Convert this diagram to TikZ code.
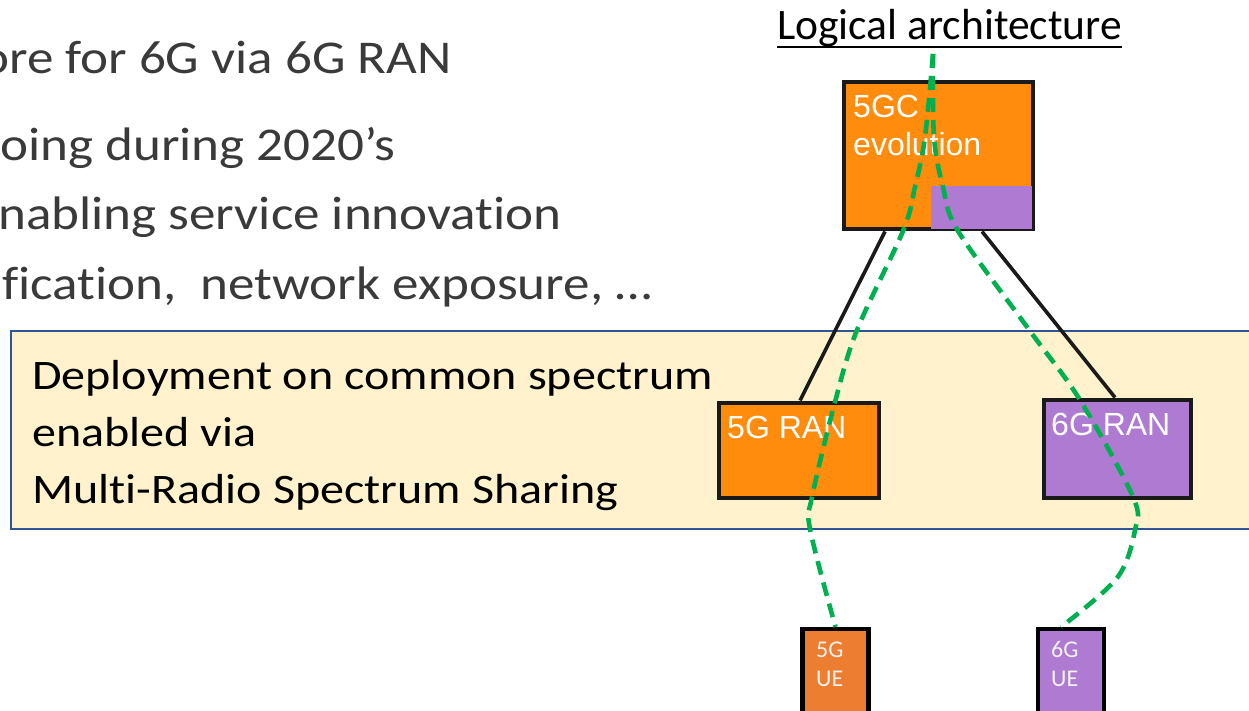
\documentclass[tikz,border=0pt]{standalone}
\usepackage{fontspec}
\setmainfont[Ligatures=NoCommon]{Carlito}
\newfontfamily\bodyfont[FakeStretch=1.13, Ligatures=NoCommon]{Carlito}
\newfontfamily\bandfont[FakeStretch=1.145, Ligatures=NoCommon]{Carlito}
\newfontfamily\boxfont{Liberation Sans}
\newfontfamily\titlefont[Ligatures=NoCommon]{Carlito}
\usetikzlibrary{calc}

\definecolor{bodygray}{HTML}{3A3A3A}
\definecolor{bandfill}{HTML}{FFF2CC}
\definecolor{bandline}{HTML}{2F5597}
\definecolor{coreorange}{HTML}{FF8C0C}
\definecolor{ueorange}{HTML}{ED7D31}
\definecolor{nrpurple}{HTML}{AE7AD2}
\definecolor{pathgreen}{HTML}{00B050}
\definecolor{edgeblack}{HTML}{1A1A1A}

\tikzset{
  x=1pt, y=-1pt,
  box/.style={draw=edgeblack, line width=4pt, inner sep=0pt},
  uebox/.style={draw=black, line width=4.2pt, inner sep=0pt},
  bodytext/.style={inner sep=0pt, anchor=base west, text=bodygray, font=\bodyfont\fontsize{47}{54}\selectfont},
  bandtext/.style={inner sep=0pt, anchor=base west, text=black, font=\bandfont\fontsize{42}{50}\selectfont},
  boxtext/.style={inner sep=0pt, anchor=base west, text=white, font=\boxfont\fontsize{32}{38}\selectfont},
  uetext/.style={inner sep=0pt, anchor=base west, text=white!95!black, font=\fontsize{24}{29}\selectfont},
  link/.style={draw=edgeblack, line width=3.6pt},
  gpath/.style={draw=pathgreen, line width=4.6pt, dash pattern=on 14pt off 8pt},
}

\begin{document}
\begin{tikzpicture}
\useasboundingbox (0,0) rectangle (1249,711);
\clip (0,0) rectangle (1249,711);
\fill[white] (0,0) rectangle (1249,711);

% bullet text (cut at the left edge)
\node[bodytext] (t1) at (-19,74) {ore for 6G via 6G RAN};
\node[bodytext] (t2) at (0,161) {oing during 2020’s};
\node[bodytext] (t3) at (-2,230) {nabling service innovation};
\node[bodytext] (t4) at (2,299) {fication,\ \ network exposure, …};

% shared spectrum band
\draw[fill=bandfill, draw=bandline, line width=2.2pt] (11,331) rectangle (1265,529);
\node[bandtext] (b1) at (32,389) {Deployment on common spectrum};
\node[bandtext] (b2) at (32,446) {enabled via};
\node[bandtext] (b3) at (32,503) {Multi-Radio Spectrum Sharing};

% heading
\node[inner sep=0pt, anchor=base west, font=\titlefont\fontsize{43.5}{50}\selectfont] (title) at (777,40) {Logical architecture};
\draw[line width=2.8pt] ($(title.base west)+(0,7)$) -- ($(title.base east)+(0,7)$);

% core network
\node[box, fill=coreorange, minimum width=189pt, minimum height=147pt] (c5gc) at (938,156) {};
\node[fill=nrpurple, inner sep=0pt, minimum width=101pt, minimum height=43pt, anchor=south east]
  (c5gcsub) at ($(c5gc.south east)+(-2,-2)$) {};
\node[boxtext] (c5gcl1) at (853,118) {5GC};
\node[boxtext] (c5gcl2) at (853,156) {evolution};

% radio access networks
\node[box, fill=coreorange, minimum width=160pt, minimum height=95pt] (ran5) at (798.5,450) {};
\node[boxtext] (ran5l) at (727,438) {5G RAN};
\node[box, fill=nrpurple, minimum width=147pt, minimum height=98pt] (ran6) at (1117,448.5) {};
\node[boxtext] (ran6l) at (1051,435) {6G RAN};

% devices
\node[uebox, fill=ueorange, minimum width=66pt, minimum height=110pt, anchor=north] (ue5) at (835.5,627) {};
\node[uetext] (ue5l1) at (816,657) {5G};
\node[uetext] (ue5l2) at (816,686) {UE};
\node[uebox, fill=nrpurple, minimum width=66pt, minimum height=110pt, anchor=north] (ue6) at (1071,627) {};
\node[uetext] (ue6l1) at (1051,657) {6G};
\node[uetext] (ue6l2) at (1051,686) {UE};

% core to RAN links
\draw[link] ([xshift=-53pt]c5gc.south) -- ([xshift=1.5pt]ran5.north);
\draw[link] ([xshift=44pt]c5gc.south) -- ([xshift=-2pt]ran6.north);

% logical paths
\coordinate (lgtop) at (933,54);
\draw[gpath] plot[smooth, tension=0.55] coordinates
  {(lgtop) (925,137) (915,187) (903,231) (857,330) (835,402) (812,497) (810,529) (ue5.north)};
\draw[gpath] plot[smooth, tension=0.55] coordinates
  {(lgtop) (934,137) (943,187) (958,231) (1030,331) (1080,400) (1133,497) (1135,530) (1117,578) ($(ue6.north)+(-10,0)$)};
\end{tikzpicture}
\end{document}
